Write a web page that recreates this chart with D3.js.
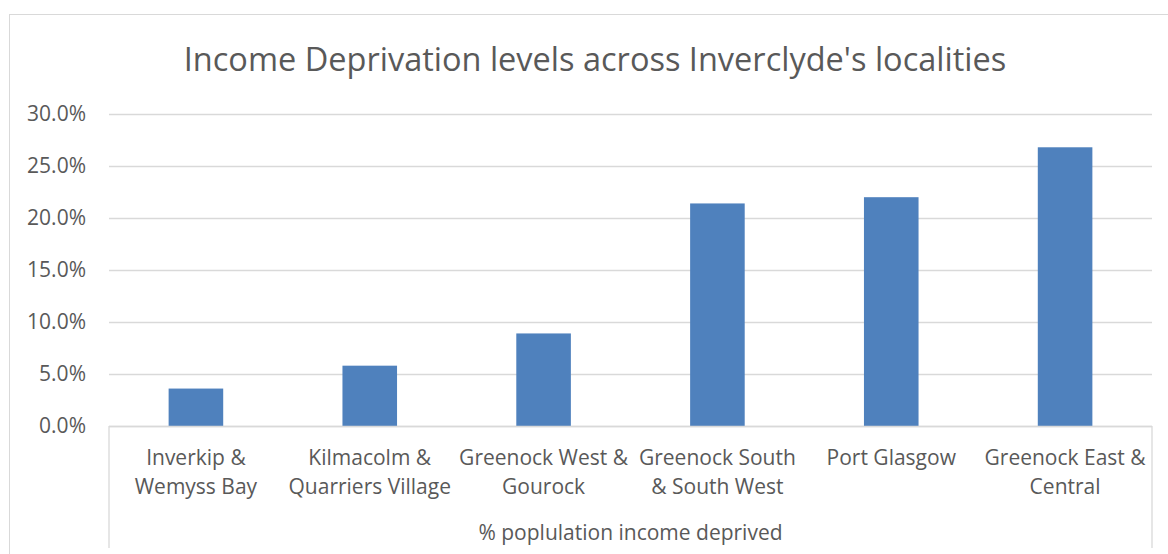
<!DOCTYPE html>
<html>
<head>
<meta charset="utf-8">
<script src="https://cdn.jsdelivr.net/npm/d3@7"></script>
<style>
  body { margin: 0; background: #fff; }
  svg { display: block; font-family: "Open Sans", sans-serif; }
</style>
</head>
<body>
<div id="svg-holder"></div>
<script>
var width = 1168;
var height = 554;

// data
var categories = [
    ["Inverkip &", "Wemyss Bay"],
    ["Kilmacolm &", "Quarriers Village"],
    ["Greenock West &", "Gourock"],
    ["Greenock South", "& South West"],
    ["Port Glasgow"],
    ["Greenock East &", "Central"]
];
var values = [0.036, 0.058, 0.089, 0.214, 0.220, 0.268];
var yTicks = [0, 0.05, 0.10, 0.15, 0.20, 0.25, 0.30];
var title = "Income Deprivation levels across Inverclyde's localities";
var groupLabel = "% poplulation income deprived";

var plot = { left: 109, right: 1152, top: 114, bottom: 426 };
var labelFont = '21px';

var svg = d3.select('#svg-holder').append('svg')
            .attr("width", width)
            .attr("height", height);

// chart area border (cut off at right/bottom like the screenshot)
svg.append('rect')
    .attr('x', 9.5).attr('y', 14.5)
    .attr('width', 1200).attr('height', 600)
    .attr('fill', 'none')
    .attr('stroke', '#d9d9d9');

var x = d3.scaleBand()
    .domain(d3.range(categories.length))
    .range([plot.left, plot.right])
    .paddingInner(0.686)
    .paddingOuter(0.343);

var y = d3.scaleLinear().domain([0, 0.30]).range([plot.bottom, plot.top]);

// gridlines + y labels
var yAxis = d3.axisLeft(y)
    .tickValues(yTicks)
    .tickSize(-(plot.right - plot.left))
    .tickPadding(23)
    .tickFormat(d3.format(".1%"));

var gy = svg.append('g')
    .attr('transform', 'translate(' + plot.left + ',0)')
    .call(yAxis);
gy.select('.domain').remove();
gy.selectAll('.tick line').attr('stroke', '#d9d9d9').attr('stroke-width', 1.3);
gy.selectAll('.tick text')
    .attr('fill', '#595959')
    .style('font-size', labelFont)
    .style('font-family', '"Open Sans", sans-serif');

// bars
svg.selectAll('rect.bar')
    .data(values)
    .enter().append('rect')
    .attr('class', 'bar')
    .attr('x', function(d, i) { return x(i); })
    .attr('y', function(d) { return y(d); })
    .attr('width', x.bandwidth())
    .attr('height', function(d) { return plot.bottom - y(d); })
    .attr('fill', '#4f81bd');

// category axis line and outer dividers
svg.append('line')
    .attr('x1', plot.left).attr('x2', plot.right)
    .attr('y1', plot.bottom + 0.5).attr('y2', plot.bottom + 0.5)
    .attr('stroke', '#d9d9d9').attr('stroke-width', 1.3);
[plot.left, plot.right].forEach(function(px) {
    svg.append('line')
        .attr('x1', px).attr('x2', px)
        .attr('y1', plot.bottom).attr('y2', 548)
        .attr('stroke', '#d9d9d9').attr('stroke-width', 1.3);
});

// category labels
var labels = svg.selectAll('text.cat')
    .data(categories)
    .enter().append('text')
    .attr('class', 'cat')
    .attr('text-anchor', 'middle')
    .attr('fill', '#595959')
    .style('font-size', labelFont);
labels.selectAll('tspan')
    .data(function(d, i) { return d.map(function(s) { return { s: s, i: i }; }); })
    .enter().append('tspan')
    .attr('x', function(d) { return x(d.i) + x.bandwidth() / 2; })
    .attr('y', function(d, j) { return 465 + j * 29; })
    .text(function(d) { return d.s; });

svg.append('text')
    .attr('x', (plot.left + plot.right) / 2)
    .attr('y', 540)
    .attr('text-anchor', 'middle')
    .attr('fill', '#595959')
    .style('font-size', labelFont)
    .text(groupLabel);

svg.append('text')
    .attr('x', 595)
    .attr('y', 71)
    .attr('text-anchor', 'middle')
    .attr('fill', '#595959')
    .style('font-size', '32.5px')
    .text(title);
</script>
</body>
</html>
